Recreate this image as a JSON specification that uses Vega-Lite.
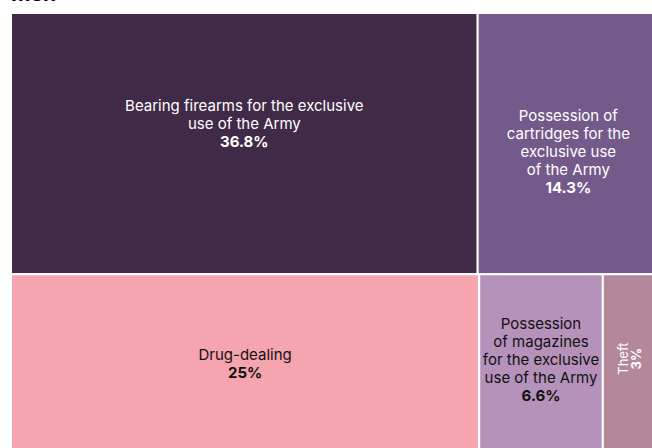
{
  "$schema": "https://vega.github.io/schema/vega-lite/v6.json",
  "width": 648,
  "height": 438,
  "autosize": "none",
  "padding": {"left": 11, "top": 13, "right": 0, "bottom": 0},
  "background": "white",
  "view": {"stroke": null},
  "title": {"text": "Men", "anchor": "start", "frame": "group", "fontSize": 21, "fontWeight": "bold", "font": "Inter", "color": "#000", "offset": 7},
  "data": {"values": [
    {"name": "Bearing firearms", "row": "top", "order": 1, "value": 36.8, "label": "Bearing firearms for the exclusive|use of the Army", "pct": "36.8%"},
    {"name": "Cartridges", "row": "top", "order": 2, "value": 14.3, "label": "Possession of|cartridges for the|exclusive use|of the Army", "pct": "14.3%"},
    {"name": "Drug-dealing", "row": "bottom", "order": 1, "value": 25, "label": "Drug-dealing", "pct": "25%"},
    {"name": "Magazines", "row": "bottom", "order": 2, "value": 6.6, "label": "Possession|of magazines|for the exclusive|use of the Army", "pct": "6.6%"},
    {"name": "Theft", "row": "bottom", "order": 3, "value": 3, "label": "Theft", "pct": "3%"}
  ]},
  "transform": [
    {"joinaggregate": [{"op": "sum", "field": "value", "as": "rowTotal"}], "groupby": ["row"]},
    {"joinaggregate": [{"op": "sum", "field": "value", "as": "grand"}]},
    {"window": [{"op": "sum", "field": "value", "as": "cum"}], "groupby": ["row"], "sort": [{"field": "order"}], "frame": [null, 0]},
    {"calculate": "(datum.cum - datum.value) / datum.rowTotal", "as": "x0"},
    {"calculate": "datum.cum / datum.rowTotal", "as": "x1"},
    {"calculate": "datum.row === 'top' ? 0 : 1 - datum.rowTotal / datum.grand", "as": "y0"},
    {"calculate": "datum.row === 'top' ? datum.rowTotal / datum.grand : 1", "as": "y1"},
    {"calculate": "(datum.x0 + datum.x1) / 2", "as": "xc"},
    {"calculate": "(datum.y0 + datum.y1) / 2", "as": "yc"},
    {"calculate": "length(split(datum.label, '|'))", "as": "nLines"},
    {"calculate": "datum.name === 'Bearing firearms' ? -20 : datum.name === 'Cartridges' ? 8 : datum.name === 'Magazines' ? -3 : datum.name === 'Theft' ? 5 : 1", "as": "shift"},
    {"calculate": "datum.yc + (datum.shift - datum.nLines * 18 / 2) / 438", "as": "labelY"},
    {"calculate": "datum.yc + (datum.shift + datum.nLines * 18 / 2) / 438", "as": "pctY"}
  ],
  "encoding": {
    "x": {"field": "xc", "type": "quantitative", "scale": {"domain": [0, 1], "nice": false, "zero": false}, "axis": null},
    "y": {"field": "yc", "type": "quantitative", "scale": {"domain": [0, 1], "nice": false, "zero": false, "reverse": true}, "axis": null}
  },
  "layer": [
    {
      "mark": {"type": "rect", "stroke": "white", "strokeWidth": 2},
      "encoding": {
        "x": {"field": "x0", "type": "quantitative"},
        "x2": {"field": "x1"},
        "y": {"field": "y0", "type": "quantitative"},
        "y2": {"field": "y1"},
        "fill": {"field": "name", "type": "nominal", "legend": null,
          "scale": {"domain": ["Bearing firearms", "Cartridges", "Drug-dealing", "Magazines", "Theft"],
                    "range": ["#412a47", "#735a8a", "#f6a4b0", "#b592ba", "#b3889a"]}}
      }
    },
    {
      "transform": [{"filter": "datum.name !== 'Theft'"}],
      "mark": {"type": "text", "align": "center", "baseline": "middle", "font": "Inter", "fontSize": 15, "lineHeight": 18, "lineBreak": "|"},
      "encoding": {
        "y": {"field": "labelY", "type": "quantitative"},
        "text": {"field": "label", "type": "nominal"},
        "color": {"condition": {"test": "datum.row === 'top'", "value": "#ffffff"}, "value": "#111111"}
      }
    },
    {
      "transform": [{"filter": "datum.name !== 'Theft'"}],
      "mark": {"type": "text", "align": "center", "baseline": "middle", "font": "Inter", "fontSize": 15, "fontWeight": "bold"},
      "encoding": {
        "y": {"field": "pctY", "type": "quantitative"},
        "text": {"field": "pct", "type": "nominal"},
        "color": {"condition": {"test": "datum.row === 'top'", "value": "#ffffff"}, "value": "#111111"}
      }
    },
    {
      "transform": [{"filter": "datum.name === 'Theft'"}],
      "mark": {"type": "text", "align": "center", "baseline": "bottom", "font": "Inter", "fontSize": 13, "angle": 270},
      "encoding": {
        "y": {"field": "labelY", "type": "quantitative"},
        "text": {"field": "label", "type": "nominal"},
        "color": {"value": "#ffffff"}
      }
    },
    {
      "transform": [{"filter": "datum.name === 'Theft'"}],
      "mark": {"type": "text", "align": "center", "baseline": "top", "font": "Inter", "fontSize": 13, "fontWeight": "bold", "angle": 270},
      "encoding": {
        "y": {"field": "labelY", "type": "quantitative"},
        "text": {"field": "pct", "type": "nominal"},
        "color": {"value": "#ffffff"}
      }
    }
  ]
}
